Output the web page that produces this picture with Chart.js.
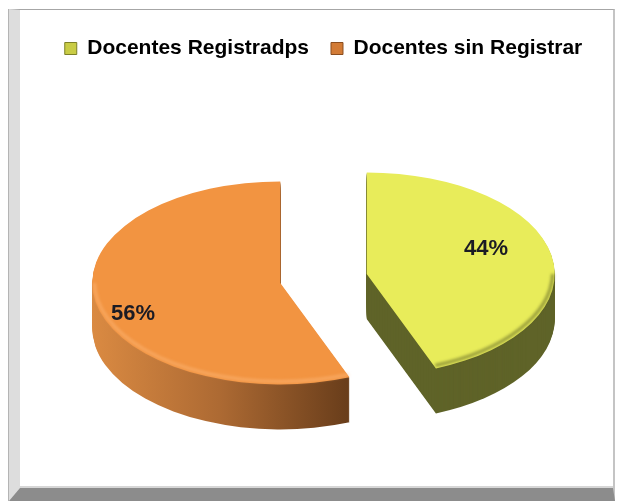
<!DOCTYPE html>
<html>
<head>
<meta charset="utf-8">
<script src="https://cdn.jsdelivr.net/npm/chart.js@4.4.1/dist/chart.umd.min.js"></script>
<style>
  body { margin: 0; background: #fff; }
  #frame {
    position: absolute; left: 9px; top: 9px;
    width: 593px; height: 478px;
    border-top: 1px solid #a6a6a6;
    border-left: 11px solid #dddddd;
    border-right: 2px solid #c4c4c4;
    border-bottom: 13px solid #8c8c8c;
    box-shadow: -1px 0 0 #b4b4b4, inset 0 -2px 0 #d6d6d6;
  }
  canvas { display: block; }
</style>
</head>
<body>
<div id="frame"><canvas id="myChart" width="593" height="478"></canvas></div>
<script>
const categories = ['Docentes Registradps', 'Docentes sin Registrar'];
const percentValues = [44, 56];

const topColors = ['#e8ec5a', '#f29441'];
const legendColors = ['#c9cc45', '#d27b36'];
const legendEdges = ['#7d8027', '#8a4d1f'];
const rimColors = ['rgba(70,74,25,0.55)', 'rgba(255,190,130,0.5)'];

const TILT = 0.54;     // vertical squash of the pie
const DEPTH = 45;      // thickness in px
const EXPLODE = 44;    // gap between the two slices
const labelRadius = [0.68, 0.84];
const labelTurn = 0.18;
const FONT = '"Liberation Sans", Arial, sans-serif';

function sideFill(ctx, i, ox, r) {
  if (i === 0) return '#5f6328';
  const g = ctx.createLinearGradient(ox - r, 0, ox + r * 0.35, 0);
  g.addColorStop(0, '#da8a42');
  g.addColorStop(0.5, '#ad6a33');
  g.addColorStop(1, '#6a3e1b');
  return g;
}

function sliceGeom(arc) {
  const p = arc.getProps(['x', 'y', 'startAngle', 'endAngle', 'outerRadius'], true);
  const mid = (p.startAngle + p.endAngle) / 2;
  p.ox = p.x + Math.cos(mid) * EXPLODE;
  p.oy = p.y + Math.sin(mid) * EXPLODE * TILT;
  p.mid = mid;
  return p;
}

// draws the pie as an exploded tilted disc: side walls first, then the arc elements squashed
const pie3d = {
  id: 'pie3d',
  beforeDatasetDraw(chart, args) {
    const ctx = chart.ctx;
    const arcs = args.meta.data;
    arcs.forEach((arc, i) => {
      const g = sliceGeom(arc);
      ctx.save();
      ctx.fillStyle = sideFill(ctx, i, g.ox, g.outerRadius);
      for (let k = DEPTH; k >= 1; k--) {
        ctx.beginPath();
        ctx.moveTo(g.ox, g.oy + k);
        ctx.ellipse(g.ox, g.oy + k, g.outerRadius, g.outerRadius * TILT, 0, g.startAngle, g.endAngle);
        ctx.closePath();
        ctx.fill();
      }
      ctx.restore();
    });
    arcs.forEach((arc, i) => {
      const g = sliceGeom(arc);
      ctx.save();
      ctx.translate(g.ox, g.oy);
      ctx.scale(1, TILT);
      ctx.translate(-g.x, -g.y);
      arc.draw(ctx);
      ctx.restore();

      // soft bevel along the front rim
      const a0 = Math.max(g.startAngle, 0.02);
      const a1 = Math.min(g.endAngle, Math.PI - 0.02);
      if (a1 > a0) {
        ctx.save();
        ctx.filter = 'blur(1.5px)';
        ctx.strokeStyle = rimColors[i];
        ctx.lineWidth = 3;
        ctx.beginPath();
        ctx.ellipse(g.ox, g.oy - 2, g.outerRadius - 2, g.outerRadius * TILT - 1, 0, a0, a1);
        ctx.stroke();
        ctx.restore();
      }
    });
    return false;
  }
};

const pctLabels = {
  id: 'pctLabels',
  afterDatasetsDraw(chart) {
    const ctx = chart.ctx;
    const arcs = chart.getDatasetMeta(0).data;
    ctx.save();
    ctx.font = 'bold 22px ' + FONT;
    ctx.fillStyle = '#1b1b24';
    ctx.textAlign = 'center';
    ctx.textBaseline = 'middle';
    arcs.forEach((arc, i) => {
      const g = sliceGeom(arc);
      const a = g.mid - labelTurn;
      const rr = g.outerRadius * labelRadius[i];
      ctx.fillText(percentValues[i] + '%', g.ox + Math.cos(a) * rr, g.oy + Math.sin(a) * rr * TILT);
    });
    ctx.restore();
  }
};

const ctx = document.getElementById('myChart');

new Chart(ctx, {
  type: 'pie',
  data: {
    labels: categories,
    datasets: [
      {
        data: percentValues,
        backgroundColor: topColors,
        borderWidth: 0,
        radius: 188,
      },
    ],
  },
  options: {
    responsive: false,
    animation: false,
    events: [],
    layout: { padding: { top: 6, left: 14, right: 0, bottom: 0 } },
    plugins: {
      tooltip: { enabled: false },
      legend: {
        position: 'top',
        labels: {
          font: { family: FONT, size: 21, weight: 'bold' },
          color: '#10101e',
          boxWidth: 12,
          boxHeight: 12,
          padding: 22,
          generateLabels: () => categories.map((text, i) => ({
            text: text,
            fillStyle: legendColors[i],
            strokeStyle: legendEdges[i],
            lineWidth: 1,
            hidden: false,
            index: i,
          })),
        },
      },
    },
  },
  plugins: [pie3d, pctLabels],
});
</script>
</body>
</html>
